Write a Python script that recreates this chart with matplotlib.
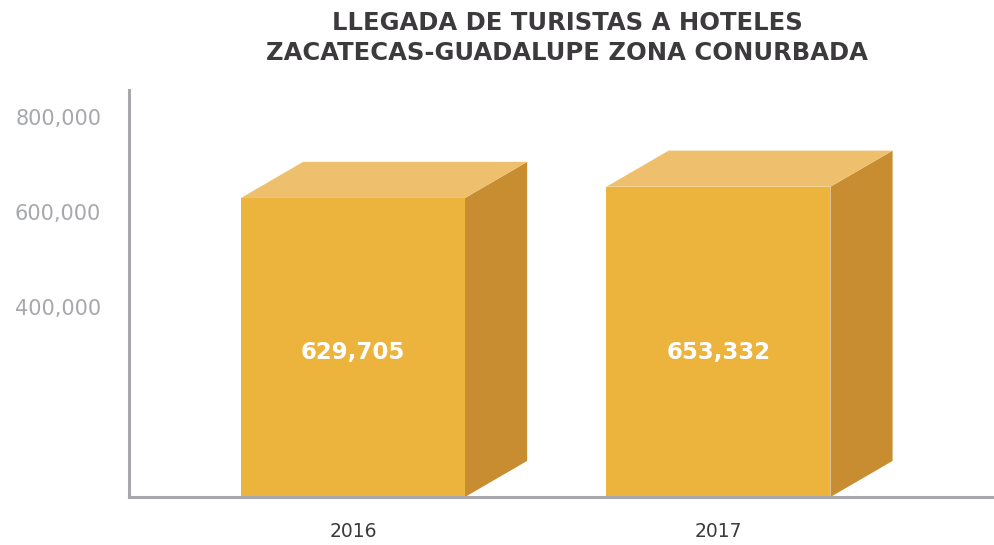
import numpy as np
import matplotlib.pyplot as plt
from matplotlib.patches import Polygon

plt.rcParams['font.family'] = ['DejaVu Sans']

years = ['2016', '2017']
turistas = [629705, 653332]
yticks = [400000, 600000, 800000]
yticklabels = ['400,000', '600,000', '800,000']

front_color = '#ECB43C'
top_color = '#EEC06E'
side_color = '#C98D31'
axis_color = '#A7A8AB'
text_color = '#3D3A3D'

fig = plt.figure(figsize=(9.94, 5.45), dpi=100)
ax = fig.add_axes([129 / 994, 48 / 545, 865 / 994, 407 / 545])

ax.set_xlim(-0.613, 1.754)
ax.set_ylim(0, 857000)

width = 0.613
dx = 0.17     # depth offset of the 3D box, x
dy = 76000    # depth offset of the 3D box, y

x = np.arange(len(years))
for xi, val in zip(x, turistas):
    x0, x1 = xi - width / 2, xi + width / 2
    # side face
    ax.add_patch(Polygon([(x1, 0), (x1 + dx, dy), (x1 + dx, val + dy), (x1, val)],
                         closed=True, facecolor=side_color, edgecolor='none', zorder=2))
    # top face
    ax.add_patch(Polygon([(x0, val), (x0 + dx, val + dy), (x1 + dx, val + dy), (x1, val)],
                         closed=True, facecolor=top_color, edgecolor='none', zorder=2))
    # front face
    ax.bar(xi, val, width=width, color=front_color, zorder=3)
    ax.text(xi, 305000, f'{val:,}', ha='center', va='center', color='white',
            fontsize=16.5, fontweight='bold', zorder=4)

ax.set_xticks(x)
ax.set_xticklabels(years, fontsize=13.5, color=text_color)
ax.tick_params(axis='x', length=0, pad=18)
ax.set_yticks(yticks)
ax.set_yticklabels(yticklabels, fontsize=15, color=axis_color)
ax.tick_params(axis='y', length=0, pad=20)

for s in ['top', 'right']:
    ax.spines[s].set_visible(False)
for s in ['left', 'bottom']:
    ax.spines[s].set_color(axis_color)
    ax.spines[s].set_linewidth(2.2)
    ax.spines[s].set_zorder(5)

fig.text(567 / 994, 1 - 38 / 545, 'LLEGADA DE TURISTAS A HOTELES\nZACATECAS-GUADALUPE ZONA CONURBADA',
         ha='center', va='center', fontsize=17.5, fontweight='bold', color=text_color,
         linespacing=1.3)

fig.savefig('out.png', dpi=100, facecolor='white')
